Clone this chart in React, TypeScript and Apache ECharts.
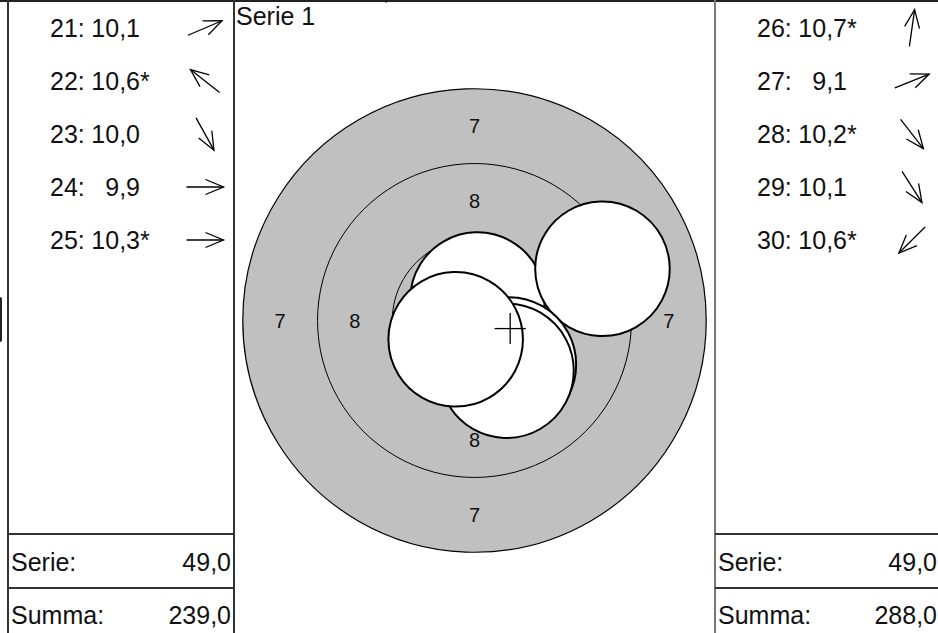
import React, { useEffect, useRef } from "react";
import * as echarts from "echarts";

// ---------- data ----------
// ISSF 10 m air-rifle ring radii (mm): 7-ring outer edge, 8, 9, 10
const ringRadii = [7.75, 5.25, 2.75, 0.25];
const ringLabelTexts = ["7", "8"];
const ringLabelRadii = [6.5, 4.0];
const pelletRadius = 2.25;

const seriesTitle = "Serie 1";

// left panel: shots 21–25
const leftShotNos = [21, 22, 23, 24, 25];
const leftScores = [10.1, 10.6, 10.0, 9.9, 10.3];
const leftInnerTen = [false, true, false, false, true];
const leftDirections = [23, 142, -61, 0, 0]; // degrees, counter-clockwise from right
const leftSerie = 49.0;
const leftSumma = 239.0;

// right panel: shots 26–30 (the ones drawn on the target)
const rightShotNos = [26, 27, 28, 29, 30];
const rightScores = [10.7, 9.1, 10.2, 10.1, 10.6];
const rightInnerTen = [true, false, true, false, true];
const rightShotX = [0.1, 4.28, 1.15, 1.07, -0.63]; // mm
const rightShotY = [0.7, 1.73, -1.47, -1.68, -0.63]; // mm
const rightSerie = 49.0;
const rightSumma = 288.0;

const summaryLabels = ["Serie:", "Summa:"];

// ---------- layout ----------
const W = 938;
const H = 633;
const PX_PER_MM = 29.9;
const CX = 474.5;
const CY = 320.5;
const HALF = 8;
const FONT = '"Liberation Sans", Arial, Helvetica, sans-serif';
const TXT = "#111";

const fmt = (v: number) => v.toFixed(1).replace(".", ",");

function textEl(text: string, x: number, y: number, align: string, size: number) {
  return {
    type: "text",
    silent: true,
    style: {
      text,
      x,
      y,
      fill: TXT,
      font: `${size}px ${FONT}`,
      align,
      verticalAlign: "middle",
      textAlign: align,
      textVerticalAlign: "middle",
    },
  };
}

function lineEl(x1: number, y1: number, x2: number, y2: number, stroke: string, w: number) {
  return {
    type: "line",
    silent: true,
    shape: { x1, y1, x2, y2 },
    style: { stroke, lineWidth: w },
  };
}

function arrowEl(cx: number, cy: number, deg: number) {
  const L = 18.5;
  const hl = 18;
  const hw = 7.5;
  const st = { stroke: "#000", lineWidth: 1.3, fill: "none" };
  return {
    type: "group",
    x: cx,
    y: cy,
    rotation: (deg * Math.PI) / 180,
    silent: true,
    children: [
      { type: "line", shape: { x1: -L, y1: 0, x2: L, y2: 0 }, style: st },
      {
        type: "polyline",
        shape: { points: [[L - hl, -hw], [L, 0], [L - hl, hw]] },
        style: st,
      },
    ],
  };
}

function panel(
  x0: number,
  nos: number[],
  scores: number[],
  inner: boolean[],
  dirs: number[],
  serie: number,
  summa: number,
  valueRight: number
) {
  const els: any[] = [];
  nos.forEach((n, i) => {
    const y = 28 + 53 * i;
    els.push(textEl(`${n}:`, x0 + 42, y, "left", 25));
    els.push(textEl(fmt(scores[i]), x0 + 132, y, "right", 25));
    if (inner[i]) els.push(textEl("*", x0 + 132, y, "left", 25));
    els.push(arrowEl(x0 + 197, y, dirs[i]));
  });
  els.push(textEl(summaryLabels[0], x0 + 3, 562, "left", 25));
  els.push(textEl(fmt(serie), valueRight, 562, "right", 25));
  els.push(textEl(summaryLabels[1], x0 + 3, 615, "left", 25));
  els.push(textEl(fmt(summa), valueRight, 615, "right", 25));
  return els;
}

// ring label positions built from ring label arrays
const ringLabelData: number[][] = [];
const ringLabelTextByIndex: string[] = [];
ringLabelRadii.forEach((r, i) => {
  [
    [0, r],
    [0, -r],
    [-r, 0],
    [r, 0],
  ].forEach((p) => {
    ringLabelData.push(p);
    ringLabelTextByIndex.push(ringLabelTexts[i]);
  });
});

export default function App() {
  const ref = useRef<HTMLDivElement>(null);

  useEffect(() => {
    if (!ref.current) return;
    const chart = echarts.init(ref.current, null, { renderer: "svg" });

    const rightDirs = rightShotX.map(
      (x, i) => (Math.atan2(rightShotY[i], x) * 180) / Math.PI
    );
    const meanX = rightShotX.reduce((a, b) => a + b, 0) / rightShotX.length;
    const meanY = rightShotY.reduce((a, b) => a + b, 0) / rightShotY.length;

    const graphics: any[] = [
      // left edge blob
      {
        type: "rect",
        silent: true,
        shape: { x: -3, y: 297, width: 5, height: 45, r: 2 },
        style: { fill: "#222" },
      },
      lineEl(0, 1, W, 1, "#222", 2),
      lineEl(386, 0, 386, 3, "#222", 1),
      lineEl(8, 0, 8, H, "#333", 2),
      lineEl(234, 0, 234, H, "#333", 2),
      lineEl(715, 0, 715, H, "#777", 2),
      lineEl(8, 534, 234, 534, "#333", 2),
      lineEl(8, 588, 234, 588, "#333", 2),
      lineEl(715, 534, W, 534, "#333", 2),
      lineEl(715, 588, W, 588, "#333", 2),
      textEl(seriesTitle, 236, 16, "left", 25),
      ...panel(8, leftShotNos, leftScores, leftInnerTen, leftDirections, leftSerie, leftSumma, 231),
      ...panel(715, rightShotNos, rightScores, rightInnerTen, rightDirs, rightSerie, rightSumma, 937),
    ];

    chart.setOption({
      animation: false,
      backgroundColor: "#fff",
      grid: {
        left: CX - HALF * PX_PER_MM,
        top: CY - HALF * PX_PER_MM,
        width: 2 * HALF * PX_PER_MM,
        height: 2 * HALF * PX_PER_MM,
        show: false,
      },
      xAxis: { type: "value", min: -HALF, max: HALF, show: false },
      yAxis: { type: "value", min: -HALF, max: HALF, show: false },
      series: [
        {
          type: "custom",
          name: "rings",
          coordinateSystem: "cartesian2d",
          silent: true,
          clip: false,
          z: 1,
          data: ringRadii.map((r) => [0, 0, r]),
          renderItem: (params: any, api: any) => {
            const c = api.coord([api.value(0), api.value(1)]);
            const r = api.size([api.value(2), 0])[0];
            const outer = params.dataIndex === 0;
            return {
              type: "circle",
              shape: { cx: c[0], cy: c[1], r },
              style: {
                fill: outer ? "#c0c0c0" : "none",
                stroke: "#000",
                lineWidth: outer ? 1.2 : 1,
              },
            };
          },
        },
        {
          type: "custom",
          name: "ringLabels",
          coordinateSystem: "cartesian2d",
          silent: true,
          clip: false,
          z: 2,
          data: ringLabelData,
          renderItem: (params: any, api: any) => {
            const c = api.coord([api.value(0), api.value(1)]);
            return {
              type: "text",
              style: {
                text: ringLabelTextByIndex[params.dataIndex],
                x: c[0],
                y: c[1],
                fill: TXT,
                font: `20px ${FONT}`,
                align: "center",
                verticalAlign: "middle",
                textAlign: "center",
                textVerticalAlign: "middle",
              },
            };
          },
        },
        {
          type: "custom",
          name: "shots",
          coordinateSystem: "cartesian2d",
          silent: true,
          clip: false,
          z: 3,
          data: rightShotX.map((x, i) => [x, rightShotY[i]]),
          renderItem: (params: any, api: any) => {
            const c = api.coord([api.value(0), api.value(1)]);
            const r = api.size([pelletRadius, 0])[0];
            return {
              type: "circle",
              shape: { cx: c[0], cy: c[1], r },
              style: { fill: "#fff", stroke: "#000", lineWidth: 2 },
            };
          },
        },
        {
          type: "custom",
          name: "mean",
          coordinateSystem: "cartesian2d",
          silent: true,
          clip: false,
          z: 4,
          data: [[meanX, meanY]],
          renderItem: (params: any, api: any) => {
            const c = api.coord([api.value(0), api.value(1)]);
            const a = api.size([0.52, 0])[0];
            const st = { stroke: "#000", lineWidth: 1.3 };
            return {
              type: "group",
              children: [
                { type: "line", shape: { x1: c[0] - a, y1: c[1], x2: c[0] + a, y2: c[1] }, style: st },
                { type: "line", shape: { x1: c[0], y1: c[1] - a, x2: c[0], y2: c[1] + a }, style: st },
              ],
            };
          },
        },
      ],
      graphic: graphics,
    });

    return () => chart.dispose();
  }, []);

  return (
    <div
      ref={ref}
      style={{ position: "fixed", left: 0, top: 0, width: W, height: H, background: "#fff" }}
    />
  );
}
